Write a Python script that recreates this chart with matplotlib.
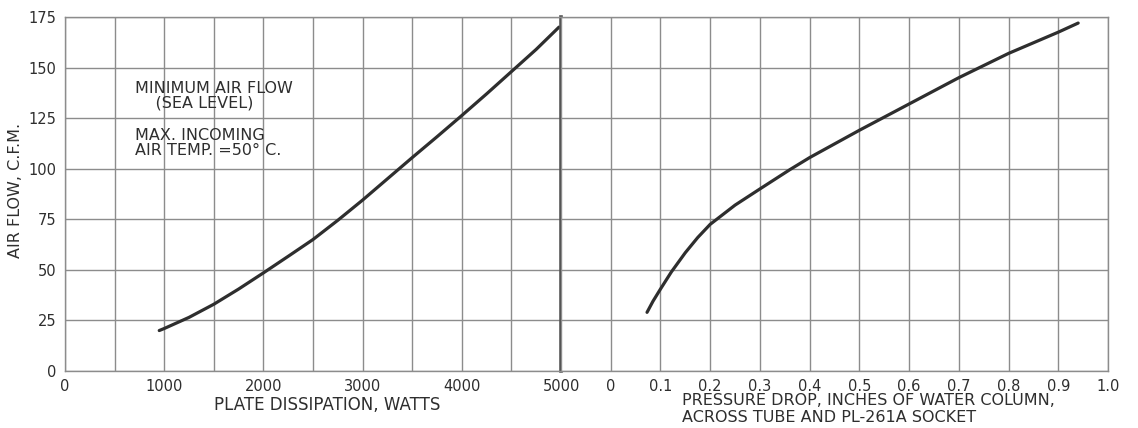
import matplotlib
matplotlib.use('Agg')
import matplotlib.pyplot as plt
import numpy as np

# values
plate_watts = [950, 1000, 1250, 1500, 1750, 2000, 2250, 2500, 2750, 3000,
               3250, 3500, 3750, 4000, 4250, 4500, 4750, 4980]
plate_cfm = [20, 21, 26.5, 33, 40.5, 48.5, 56.7, 65, 74.5, 84.5,
             95, 105.5, 115.8, 126.3, 137, 148, 159, 170]

press_drop = [0.073, 0.085, 0.1, 0.122, 0.15, 0.175, 0.2, 0.25, 0.3, 0.36,
              0.4, 0.5, 0.6, 0.7, 0.8, 0.9, 0.94]
press_cfm = [29, 34.5, 40.5, 49, 58.5, 66, 72.5, 82, 90, 99.5,
             105.5, 119, 132, 145, 157, 167.5, 172]

y_ticks = np.arange(0, 176, 25)
left_ticks = np.arange(0, 5001, 500)
left_labels = ['0', '', '1000', '', '2000', '', '3000', '', '4000', '', '5000']
right_ticks = np.arange(-0.1, 1.001, 0.1)
right_labels = ['', '0', '0.1', '0.2', '0.3', '0.4', '0.5', '0.6', '0.7', '0.8', '0.9', '1.0']

ink = '#2e2e2e'
grid_c = '#8c8c8c'
plt.rcParams['font.family'] = 'DejaVu Sans'

fig = plt.figure(figsize=(11.38, 4.28), dpi=100)
ax1 = fig.add_axes([65 / 1138, 1 - 371 / 428, 496 / 1138, 354 / 428])
ax2 = fig.add_axes([561 / 1138, 1 - 371 / 428, 547 / 1138, 354 / 428], sharey=ax1)

for ax in (ax1, ax2):
    ax.set_ylim(0, 175)
    ax.set_yticks(y_ticks)
    ax.grid(True, color=grid_c, lw=1.0)
    ax.tick_params(length=0, colors=ink, labelsize=10.5, pad=6)
    for s in ax.spines.values():
        s.set_color(grid_c)
        s.set_linewidth(1.0)

ax1.set_xlim(0, 5000)
ax1.set_xticks(left_ticks)
ax1.set_xticklabels(left_labels)
ax1.spines['right'].set_color('#555555')
ax1.spines['right'].set_linewidth(2.6)
ax1.plot(plate_watts, plate_cfm, color=ink, lw=2.3, solid_capstyle='round')

ax2.set_xlim(-0.1, 1.0)
ax2.set_xticks(right_ticks)
ax2.set_xticklabels(right_labels)
ax2.spines['left'].set_visible(False)
ax2.tick_params(axis='y', labelleft=False)
ax2.plot(press_drop, press_cfm, color=ink, lw=2.3, solid_capstyle='round')

ax1.set_ylabel('AIR FLOW, C.F.M.', color=ink, fontsize=11.5)
ax1.yaxis.set_label_coords(-0.084, 0.51)
ax1.set_xlabel('PLATE DISSIPATION, WATTS', color=ink, fontsize=12)
ax1.xaxis.set_label_coords(0.528, -0.072)
ax2.text(0.221, -0.062, 'PRESSURE DROP, INCHES OF WATER COLUMN,\nACROSS TUBE AND PL-261A SOCKET',
         transform=ax2.transAxes, ha='left', va='top', color=ink, fontsize=11.5,
         linespacing=1.15)

ax1.text(710, 143.5, 'MINIMUM AIR FLOW\n    (SEA LEVEL)', color=ink, fontsize=11.5,
         ha='left', va='top', linespacing=1.0)
ax1.text(710, 120, 'MAX. INCOMING\nAIR TEMP. =50\u00b0 C.', color=ink, fontsize=11.5,
         ha='left', va='top', linespacing=1.0)

fig.savefig('out.png', dpi=100, facecolor='white')
